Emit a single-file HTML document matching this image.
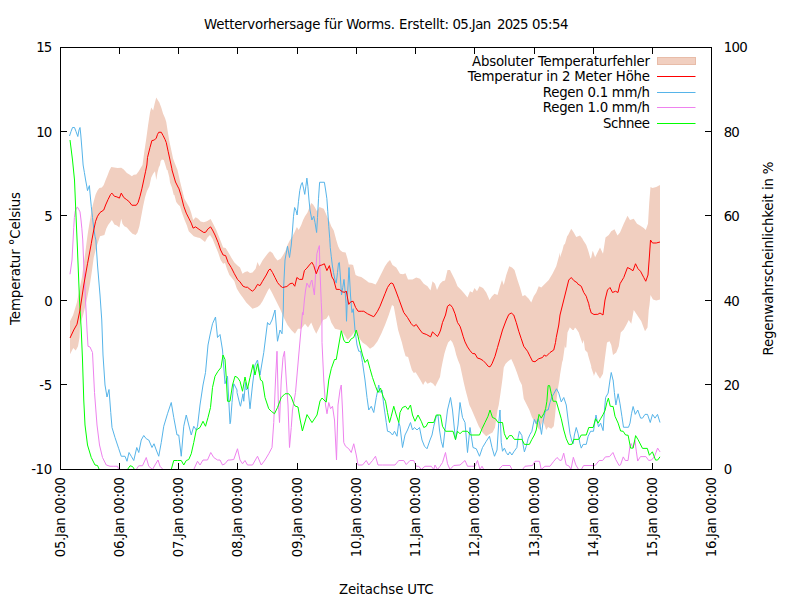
<!DOCTYPE html>
<html lang="de"><head><meta charset="utf-8"><title>Wettervorhersage für Worms</title>
<style>html,body{margin:0;padding:0;background:#fff}body{width:800px;height:600px;overflow:hidden}</style></head>
<body>
<svg width="800" height="600" viewBox="0 0 800 600" style="display:block;font-family:'DejaVu Sans','Liberation Sans',sans-serif;font-size:13.33px" fill="#000">
<rect width="800" height="600" fill="#fff"/>
<polygon points="70,321.25 73.12,315 76.88,302.5 79.38,290 81.88,277.5 83.75,263.75 85.62,250 86.88,240 88.12,231.25 90,220 91.88,208.75 93.75,201.25 95.62,194.38 97.5,190.62 99.38,188.12 101.88,187.5 103.75,185 105.62,180 107.5,175.62 109.38,170.62 111.25,166.88 114.38,167.5 117.5,168.12 121.25,167.75 123.75,169.38 126.88,173.12 129.38,174.38 131.88,176.25 133.75,174.75 136.25,174.38 138.75,171.25 140.62,168.12 142.5,165 144.38,151.25 146.25,138.75 148.12,125 150,112.5 151.25,107.5 153.12,110.62 154.62,103.75 156.25,97.5 157.75,100 159.38,102.5 161.25,107.5 163.12,113.75 165,118.12 166.25,121.88 167.5,130 169.38,141.25 171.25,150 173.12,158.75 175,163.75 177.5,170 180,181.25 181.88,188.75 184.38,198.75 186.88,203.12 189.38,207.5 191.25,213.12 193.12,220 195.62,217.25 198.12,218.75 200.62,221.5 203.75,222.25 206.88,221.25 210.62,219 213.12,223.75 216.25,230 218.75,236.25 221.25,242.5 223.12,247.5 225.62,248.12 228.12,251.88 231.25,257.5 234.38,262.5 237.5,265.62 240,267.5 242.5,273.75 245,271.88 247.5,271.25 250,273.12 252.5,272.5 255.62,268.75 257.5,261.88 259.38,266.25 262.5,260.62 265.62,256.25 268.12,253.12 270,251.25 272.5,253.12 275,257.5 277.5,260.62 280.62,258.75 283.12,255 285.62,250.62 287.5,245 290,240 292.5,236.25 295,231.25 296.88,226.88 298.75,230 301.25,225 303.12,220 305,216.25 307.5,212.5 309.38,207.5 311.25,203.12 313.12,204.38 315,207.5 316.88,211.25 319.38,206.88 321.88,208.12 323.75,208.75 325.62,213.12 327.5,217.5 329.38,221.25 331.25,226.25 333.75,230.62 335.62,237.5 336.25,240 338.12,246.25 340,250 342.5,251.88 345.62,252.5 347.5,258.75 348.75,264.38 351.25,264.38 353.12,265 354.38,270 355.62,275 358.12,276.25 361.25,276.88 363.75,278.75 366.25,280.62 368.75,282.5 371.88,283.12 375.62,284.38 377.5,281.25 380,276.25 382.5,271.25 385,266.25 387.5,262.5 390,260 392.5,265 396.25,267.5 400,273.75 403,274.25 405.5,273.25 408,279.5 412.5,279.5 416.25,277.5 420,278.75 423.75,283.75 427.5,286.25 430.5,290.5 432.5,281.25 435,283.75 437,290 440,283.75 442.5,281.25 445,280.5 447.5,270 450,270 452.5,275 455,280 457.5,286.25 461.25,290 464.5,293.75 467.5,297.5 470,291.25 472.5,292.5 474.5,288 477,291.25 479.5,286.25 483,288 486.25,292.5 489.5,300 492,296.25 494.5,293.75 497.5,295 500,286.25 502,280 503.75,285 506.25,275 509.25,266.25 512,267.5 514.5,270 517.5,280 520,287.5 522.5,296.25 525,295 528.75,298.75 531.25,302.5 533.75,296.25 536.25,292.5 538.75,286.25 541.25,287.5 545,283.75 548.75,280 552.5,273.75 556.25,266.25 560,252.5 560,257.5 562.5,250 563.75,245 565,243.75 567.5,235 567.5,236.25 571.25,228.75 571.25,228.75 573.75,232.5 573.75,232.5 576.25,237 576.25,237 579.5,235.75 580,235.5 582.5,238.75 583,240 585.5,243.75 586.25,245 588,250 588.75,252.5 590.5,258.75 591.25,257.5 592.5,251.25 593,251.25 595,257 595,257.5 597.5,252.5 597.5,252.5 600,247.5 603,253.75 605.5,237.5 608.75,235 611.25,231.25 614.5,229.25 617.5,235.5 620,232.5 623.75,223.75 627.5,215.75 630,220 633.75,218.75 637,223.75 640,225.5 643.75,228 645.75,230 648,223.75 649.25,202.5 650.5,187 652.5,188 656.25,187 660,185 660,299.5 656.25,300.5 653,299.5 650.5,295 649.5,305 648.75,310 647.5,327.5 645,331.25 641.25,321.25 638.75,317.5 636.25,313.75 633.75,310 631.25,323.75 628.75,320 626.25,325 623.75,329.5 620.75,332.5 618.75,346.25 616.25,352.5 613,355 611.25,345 609.5,341.25 607,342.5 605,357.5 603,373.75 600,378.75 597.5,375 596.25,372.5 595.75,371.25 593.75,376.25 593.75,375 591.25,367.5 591.25,366.25 588,355 587.5,352.5 585,350 583.75,340 582.5,343.75 581.25,340 579.5,335 578.75,332.5 576.25,328.75 575,327.5 573.75,330 572.5,330 570,327.5 570,327 567.5,332.5 566.25,347.5 565,347.5 565,345 562.5,362.5 562.5,360 560,375 560,375 559.38,380 557.5,391.25 556.25,402.5 555,416.25 553.75,426.25 551.25,428.75 548.12,426.88 546.25,430 544.38,424.38 542.5,421.25 539.38,430 536.88,426.25 534.38,421.25 531.88,416.88 529.38,410 526.25,403.75 523.75,398.75 521.88,385 519.38,380 518.75,378.12 516.88,372.5 515,367.5 513.12,363.12 511.25,359.12 508.12,361.25 505.62,363.75 503.75,367.5 502.5,378.75 500.62,392.5 498.75,405 497.5,410 495,427.5 492.5,432.5 488.75,434.5 486.25,436.25 482.5,432.5 478.75,426.25 475,417.5 471.25,408.75 469.38,405 467.5,397.5 465.62,390.62 463.75,382.5 461.88,373.75 460,365 458.12,360.62 456.25,355 454.38,347.5 452.5,342.5 450.62,340 448.12,342.5 446.25,347.5 444.38,353.75 442.5,362.5 441.25,368.75 440,376.88 437.5,381.88 435.25,386.5 433.12,383.75 430.62,382.25 427.5,383.75 425.25,381 423.12,385 420.62,380.62 418.12,376.25 415.62,372.25 413.75,373.12 411.88,370 410,363.75 408.12,356.88 405.62,356.25 403.75,350 401.88,342.5 400,336.25 398.12,330 396.25,320 393.75,306.25 392,305 388.75,315 385,325 381.25,333.75 377.5,341.25 373.75,346.25 370,348.75 366.25,345 362.5,342.5 358.75,337.5 355,331.25 351.25,336.25 347.5,340 343.75,333.75 340,330 335,328.75 331.25,322.5 328.75,315 326.25,318.75 323,320 320,326.25 316.25,333.75 313.75,328.75 311.25,322.5 308,327.5 305,323.75 301.25,328.75 298,328.75 295,333.75 291.25,330 287.5,325 283.75,317.5 280,308.75 278.12,305 275,298.75 271.88,292.5 269.38,288.12 267.5,291.25 265,296.25 262.5,301.25 260,305 257.5,307 252.5,308.75 248.75,305 246.25,302.5 243.12,298.12 240,293.75 236.88,288.75 234.38,281.25 231.88,278.12 229.38,275 226.88,268.75 225,263.12 223.12,263.75 220.62,260 218.12,252.5 215,245 212.5,238.75 210,235 207.5,237.5 205,241.88 202.5,240 200,238.12 197.5,237.5 193.75,236.25 191.25,233.75 188.75,231.25 186.88,225.62 184.38,219.38 181.88,212.5 180,206.25 178.12,204.38 176.25,201.88 174.38,195 173.75,195 171.88,187.5 170,182.5 169.38,177.5 167.5,170 166.88,170 165,163.75 163.75,160 161.88,159.38 160.62,161.25 160,165 158.75,167.5 157.5,172.5 156.25,180 155,171.25 153.12,173.75 151.25,177.5 149.38,186.25 146.88,191.25 145,197.5 143.12,206.25 141.25,216.25 139.38,226.25 137.5,232.5 135.62,235 132.5,233.75 130,231.25 126.88,227.5 124.38,226.25 122.5,223.75 121.25,218.75 119.38,227.5 116.88,225.62 114.38,224.38 111.88,220 110,222.5 108.12,225 106.25,228.75 104.38,235 100,236.25 98.75,240 96.25,247.5 93.75,257.5 91.88,271.25 90,283.75 87.5,296.25 85,307.5 83.12,315 80,325 79.5,337.5 78,346.25 75.75,350.5 73.25,348 70,354.25" fill="#f1cfc0" stroke="none"/>
<polyline points="69.5,136 71,131.5 72.5,127.5 74.5,127.5 76,131.5 77.8,136.5 79,130 80,127.5 80.8,135 82,150 83.12,165 84.38,172.5 85.62,180 86.88,186.88 87.5,190.62 89.38,185.62 90,193.12 91.25,206.25 92.5,217.5 93.75,228.75 95,236.25 95.88,240 97.5,265 100,295 101.75,320 103,355 105,385 107,397 109,389.5 110.75,412.5 112,427.5 115,437.5 118.75,448.75 121.25,456.25 125,456.25 127,461.25 129,452.5 131.25,456.25 133.75,460.5 136.75,447.5 138.75,452.5 141.25,440 143.75,435.5 146.25,438.75 148.75,440 152,447.5 154,443.75 156.25,450 158.75,456.25 161.25,442.5 163.75,426.25 167.5,413.75 171.25,402.5 173.75,417.5 177,435 178.75,435 181.25,456.25 183.75,426.25 186.25,415 188.75,425 191.25,435 193.75,426.25 196.25,430 197.5,426.25 200,405 203,385 205.5,372.5 208,345 210,335 212.5,323.75 215.5,317 217.5,337.5 220,334.5 222.5,350 225,383.75 227.5,376.25 230,423.75 230.5,422.5 232,402.5 233.75,383.75 234.5,385 237,390 237,392.5 240,405 240.5,406.25 243,393.75 243.75,401.25 245.5,382.5 246.25,390 248,387.5 250,408.75 252.5,385 255,365 257.5,360 260,375 263.75,352.5 267.5,322.5 269.5,325 272,320 275,310 277.5,341.25 280,330 282,333.75 283.25,310 283.75,285 285,260 287.5,246.25 289.5,257.5 291.25,245 292.5,230 293.5,216.25 294.62,207.5 296,210.62 297.12,215 298.5,201.25 299.75,190.62 301,185 302.25,182.5 303.5,188.12 304.75,194.38 305.88,186.25 306.88,178.12 307.88,186.25 309,200 310,210 311.88,220 313.75,216.25 315,222.5 316.62,232.5 317.5,217.5 318.5,198.75 319.62,182.25 324.38,182.25 325.62,190 326.88,198.75 327.75,211.25 328.75,226.25 329.75,238.75 330.25,247.5 331.25,256.25 332.25,265 333.5,272.5 335,280 336.25,283.12 337.5,272.5 338.5,263.12 339.38,262.5 340.25,275 341.5,295 342.75,287.5 344,279.38 345,290 346,303.75 346.5,321.25 347.5,295 349,267.5 350.5,295 351.25,305 352,312.5 353.25,308.75 355,330 357,345 358.75,351.25 360.5,351.25 362.5,362.5 365,380 367,397.5 368.75,410 371.25,406.25 373.75,412.5 376.25,397.5 378.75,385 380,392.5 382,390 383.75,405 386.25,422.5 387.5,431.25 390,432 392.5,435 394.5,431.25 397,436.25 398.75,422.5 400,426.25 402.5,447.5 405,435 407.5,430 410.5,422.5 412.5,430 414.5,427.5 417,430 419.5,427.5 422,440 424.5,446.25 427,448.75 430,440 432,435 433.75,426.25 436.25,416.25 438,415 439.5,430 441.25,441.25 443,447.5 445,430 447.5,410 450.5,397.5 452.5,410 455.5,440 458,425 460,402.5 462.5,417.5 465,422.5 467.5,452.5 470,427.5 473,447.5 476.25,448.75 479.5,456.25 482.5,447.5 486.25,441.25 489.5,436.25 492,447.5 494.5,456.25 497,450 498.75,422.5 500,410 501.25,442.5 502.5,451.25 504.38,448.12 506.25,452.5 508.12,455 509.75,451.88 511.88,455 513.75,451.88 516.88,447.5 518.12,437.5 519.38,431.25 521.88,435.62 523.12,445 524.38,451.88 526.25,446.25 528.12,438.75 530,434.38 531.88,431.25 533.12,425 534.38,419.38 536.25,423.75 538.12,418.75 539.75,423.75 541.5,434.38 543.12,421.25 545,412.5 546.25,410 548.12,410 550,402.5 551.88,396.88 553.75,393.75 556.5,388.75 558.75,393.12 561.25,401.88 563.75,397.5 566.25,405 568.12,420 570,433.75 571.88,441.25 573.12,443.75 574.38,435 576.25,427.5 578.12,433.75 580,443.75 581.25,448.12 583.12,444.38 586.25,444.38 588.12,436.25 590.62,431.25 593.5,431.25 594.75,422.5 596,415 597.25,421.25 598.5,426.88 600.62,423.12 603.12,430.62 604.38,411.25 605.62,397.5 608.12,393.12 610,380 611.25,372.5 613,380 613.12,380 614.38,392.5 615.88,405 618.12,393.75 620,403.75 621.88,416.25 623.5,427.25 628.5,427.25 630,423.12 631.5,413.75 633.12,406.5 635.25,414.38 637.75,410 640.62,418.12 642.5,418.12 645,414.38 647.5,414.38 650.25,422.5 652.5,414.38 655,418.12 657.5,414.38 660,422.5" fill="none" stroke="#56b4e9" stroke-width="1" stroke-linejoin="round"/>
<polyline points="70,274.25 72,260 73.75,227.5 74.38,217.5 75.25,211.25 76.25,208.12 77.5,207.25 78.75,209.38 80,211.88 81,220 81.88,228.75 82.75,240 83.75,265 85.5,300 87,330 88,346.25 90,347 92.5,352.5 94.5,392.5 97,425 99.5,445 102.5,457.5 106.25,465 110,466.25 113.75,466.25 117.5,466.25 118.75,469.5 136.25,469.5 138.75,465.75 142.5,465.75 146.25,457.5 148.75,466.25 152.5,469.5 155,465 158,460 160,466.25 163,469.5 193.75,469.5 197.5,461.25 200,465 203,460 207.5,460 210.75,452.5 213.75,457.5 217.5,460 220,460 222.5,465 225,463.75 228,460 230,460 233.75,459.5 237.5,448.75 240,460 242.5,463.75 245,460.5 247.5,465 252.5,465 257.5,456.25 261.25,465 265,460 268.75,453.75 272,447.5 273.75,422.5 275.5,380 277,351.25 278.25,400 279.5,422.5 281.25,380 283,357.5 284.5,351.25 286.25,380 288,405 289.5,447.5 291.25,427.5 292.5,410 295.5,392.5 298.75,355 302.5,312.5 303.12,315 304.38,300 305.62,290 306.88,283.12 309.38,287.5 310.62,282.5 311.88,280 313.12,287.5 314.38,295 315.62,273.75 316.88,253.75 318.12,249.38 319.38,245.62 320,271.25 321.25,302.5 321.88,315 322,342.5 323.75,380 325.5,405 327,413.75 328.75,402.5 330.5,408.75 332.5,406.25 334.5,420 336.5,460 338,405 340,390 341.25,385 342.5,410 343.75,442.5 345.5,446.25 348.75,448.75 351.25,452.5 353.75,443.75 356.25,455 358,465 362.5,465 366.25,460.5 368.75,465 372.5,460.5 375.5,456.25 378,465 382.5,465 390,465 395,465 398.75,460.5 403.75,460.5 406.25,464.5 410,460.5 413.75,460.5 416.25,466.25 418.75,466.25 421.25,469.5 425,466.25 431.25,466.25 433.75,469.5 435,465 437.5,469.5 440,466.25 442.5,462.5 445.5,452.5 447.5,463.75 450,469.5 453.75,465.5 460,465 465,460.5 467.5,466.25 471.25,466.25 475,466.25 477.5,460.5 480,469.5 482,466.25 483.75,469.5 498.75,469.5 502.5,465.5 510,465.5 512,469.5 522.5,469.5 525,466.25 532.5,465.5 535,461.25 539.5,461.25 541.25,469.5 545,466.25 550,466.25 553.75,461.25 557,457.5 560,460.48 561.65,460.06 563.71,453.19 566.19,464.88 568.94,465.98 571,469.5 573.34,457.31 575.81,464.88 578.56,469.5 581.31,469.5 583.65,465.56 595.06,465.56 599.19,460.48 602.62,460.48 605.38,456.9 609.5,456.62 612.94,452.5 615.69,459.38 619.12,465.56 620.5,464.88 623.25,456.9 625.31,460.48 628.06,460.48 629.85,447 631.23,443.56 632.88,447.69 634.94,440.4 636.31,451.12 637.69,461.02 640.44,456.62 645.94,456.62 648.69,460.48 651.44,460.06 654.19,456.9 655.98,452.5 657.62,448.1 659.96,451.81 660,452" fill="none" stroke="#ee82ee" stroke-width="1" stroke-linejoin="round"/>
<polyline points="70,140 72.5,160 74.5,180 75.75,210 77.5,250 79.5,300 81.25,330 82.5,360 83.75,400 85,425 87.5,445 91.25,457.5 95,465 97.5,465.5 99.25,469.5 127.5,469.5 130,465.75 132.5,466.5 134.5,469.5 171.25,469.5 173.75,460.5 177.5,460.5 181.25,460.5 183.75,465 186.25,460.5 188.75,459.5 191.25,453.75 193.75,442.5 196.25,430 200,427.5 203,421.25 205.5,426.25 208,417.5 210.5,407.5 212.5,387.5 215,376.25 218,371.25 221,367.5 223,355 225,359.5 226.25,377.5 227.5,401.25 230,401.25 232.5,385 235,376.25 237.5,377.5 240,381.25 242.5,391.25 245,377 247.5,388.75 250,377.5 253,364.5 255,375 257.5,363.75 260.5,380 262.5,381.25 265,397.5 268.75,408.75 271.25,411.25 274.5,413.75 277.5,407.5 281.25,397.5 285,393.75 288.75,393.75 291.25,397 293.75,403.75 295,406 298,407 300,419 302.4,431 307,414.6 312,422.6 317,415 320,401 322,398 325,401 326.25,402 328.75,380 331.25,368.75 334.5,359.5 336.25,359.5 338.75,345 341.25,330.75 343.75,340 345.5,342.5 348.75,342.5 351.25,338.75 353.75,337.5 356.25,330 358,336.25 360,345 362.5,355 365,362.5 367.5,359.5 370,368.75 372.5,377.5 375.5,386.25 378,392.5 380.5,388 383,396.25 385.5,401.25 387.5,412.5 389.5,422.5 391.25,416.25 393.75,406.25 396.25,415 398.75,422.5 400,412.5 402.5,407.5 405.5,406.25 408,409.5 410.5,405 412.5,415 415,421.25 418,415 421.25,421.25 423.75,427.5 426.25,426.25 428,422.5 433.75,422.5 436.25,415 440.5,415 442.5,426.25 445.5,431.25 450,431.25 453,431.25 455.5,439.5 457.5,431.25 460,433.75 462.5,431.25 467.5,431.25 470.5,435 475,435 479.5,435 482,428.75 485,422.5 488,416.25 490,410 492.5,417.5 495.5,418.75 498,422.5 502.5,422.5 504.38,433.75 506.88,439.38 509.38,435.62 511.88,435.62 514.38,439.38 521.88,439.38 524.38,444.38 529.38,444.38 531.88,439.38 534.38,435 536.25,430 537.5,422.5 539,414.38 541.25,418.12 543.75,413.75 545.62,408.75 546.88,401.25 548.12,385.62 549.62,385.62 551.25,393.75 553.12,401.25 556.25,401.25 558.75,410 561.25,418.75 563.75,430 566.25,438.75 568.75,444.38 571.88,444.38 573.75,439.38 578.75,439.38 581.25,435 586.25,435 588.75,427.5 593.12,427.5 595.62,418.75 598.12,423.12 600.62,418.75 603.12,414.38 605,410.62 606.88,402.5 608.38,398.12 610.25,406.25 613.12,406.5 615,416.25 618.12,423.12 620.62,431 623.12,431.25 625.62,435 628.12,435.25 630.62,448.12 633.12,448.12 635.62,435.62 638.12,439.75 642.5,448.38 647.31,448.38 649.38,455.25 652.4,451.81 655.56,460.06 657.62,460.06 659.96,456.9 660,457" fill="none" stroke="#00ff00" stroke-width="1" stroke-linejoin="round"/>
<polyline points="70,338 73.75,330 77,324.25 80,310 83.75,285 87.5,263.75 91.25,243.75 91.88,240 93.75,230 95.62,221.25 97.5,216.25 100,212.5 103.75,210 105.62,205 108.12,199.38 110.62,194.38 111.88,193.12 114.38,196.25 116.88,196.88 119.38,198.12 121.25,193.12 123.75,197.5 126.25,199.38 128.75,201.25 131.88,205.25 136.25,205.25 138.12,202.5 140,196.25 141.88,188.75 143.75,180 145.62,171.25 146.88,165 147.5,157.5 150,147.5 151.88,140.62 154.38,140 156.25,138.12 157.5,134.38 158.75,132.25 161.25,132.25 163.12,135.62 165,139.38 166.25,142.5 168.12,151.25 170,160 171.88,168.75 172,170 175.5,182 178.5,188 178.75,188.12 181.25,196.25 183.75,206.25 186.25,213.12 188.75,218.12 191.25,223.12 193.12,228.12 195.62,226.88 200,230 203.75,232.5 205.62,232.25 208.12,228.75 210.62,226.88 212.5,230 215,235 218.12,242.5 220.62,250 223.12,255 225.62,255.62 228.12,262.5 231.25,267.5 234.38,273.75 237.5,279.38 240,281.88 243.12,286.25 245.62,287.25 247.5,287.25 250,289.38 252.5,291.25 255,288.75 257.5,284.38 260,285.62 262.5,281.25 266.25,275 268.75,270 270.25,269 272.5,272.5 275,277.5 277.5,282.5 280,285.62 282.5,287.5 286.88,286.5 290,283.75 292.5,283.12 294.75,286.25 296.88,277.5 299.38,279.38 302.5,279.38 304.38,270.62 306.88,268.12 309.38,265 311.88,262.25 313.75,265.62 316.25,273.75 319.38,265.62 321.88,265 324.38,263.75 326.88,270.62 329.38,265.62 331.88,276.88 333.75,280 336.25,289.38 339.38,289.38 342.5,291.88 345,292.25 346.25,291 348.75,304.38 350.62,301.88 353.12,301.25 355.62,307.5 358.12,311.25 361.25,311.25 363.75,311.25 367.5,313.75 370,315 373.75,316.75 375,315 377.5,311.25 380,306.25 382.5,300 385,293.75 387.5,287.5 390,283.75 391.25,283 393,283.75 395.5,290 398.75,298.75 403.75,312.5 407.5,317.5 411.25,323.75 413.75,326.25 416.25,324.5 420,330 422.5,333.12 426.25,334.38 430.62,336.88 432.5,331.88 437.5,336.5 439.38,333.12 440.62,330 442.5,322.5 445.5,315 447.5,306.25 450,304.5 452.5,307.5 455,313.75 457.5,322.5 460,326.25 461.25,330 463.12,336.25 465,341.88 467.5,346.88 470,350.62 472.5,353.5 475,353.75 477.5,358.12 480,358.75 483.12,360.62 485.62,363.12 488.12,366.25 490,366.88 492,363.75 495,356.25 497.5,347.5 500,338.75 502.5,330 506.25,320 508.75,314.5 511.25,313 513.75,315 516.25,322.5 518.75,331.25 521.25,338.75 523.75,346.25 527.5,351.25 530,356.25 532.5,361.25 535,361.75 538.75,358.75 542.5,357.5 544.25,355 546.25,356.25 550,352.5 553.75,350 555.5,342.5 556.25,337.5 558.75,325 560,315 561.25,310 562.5,305 563.75,300 566.25,290 566.25,290 568.75,280 568.75,280 571.25,277.5 571.25,277.5 573.75,280.5 573.75,280.5 577.5,283 577.5,283.75 581.25,286.25 581.25,286.25 583.75,292.5 583.75,292.5 586.25,296.25 587,298.75 588.75,303.75 589.5,307.5 591.25,313 591.25,313 593.75,314.25 593.75,314.5 597.5,314.25 597.5,314.5 600,313 603,315 605,300 607.5,290 610,287.5 612.5,292.5 615.5,291.25 618,292.5 620,283.75 623.75,277.5 627.5,267.5 630,268.75 633,270.75 635.5,263.75 638,268.75 640.5,271.25 643.75,277.5 645.75,281.25 648,275 649.5,255 650.5,240 652.5,243 656.25,243 660,242" fill="none" stroke="#ff0000" stroke-width="1" stroke-linejoin="round"/>
<path d="M119.5,469.5v-6.5M119.5,47.5v6.5M178.5,469.5v-6.5M178.5,47.5v6.5M237.5,469.5v-6.5M237.5,47.5v6.5M297.5,469.5v-6.5M297.5,47.5v6.5M356.5,469.5v-6.5M356.5,47.5v6.5M415.5,469.5v-6.5M415.5,47.5v6.5M474.5,469.5v-6.5M474.5,47.5v6.5M534.5,469.5v-6.5M534.5,47.5v6.5M593.5,469.5v-6.5M593.5,47.5v6.5M652.5,469.5v-6.5M652.5,47.5v6.5M60.5,131.5h6.5M711.5,131.5h-6.5M60.5,215.5h6.5M711.5,215.5h-6.5M60.5,300.5h6.5M711.5,300.5h-6.5M60.5,384.5h6.5M711.5,384.5h-6.5" stroke="#000" stroke-width="1" fill="none"/>
<rect x="60.5" y="47.5" width="651.0" height="422.0" fill="none" stroke="#000" stroke-width="1"/>
<text x="36.2" y="52.2" textLength="16">15</text>
<text x="723.8" y="52.2" textLength="24">100</text>
<text x="36.2" y="136.5" textLength="16">10</text>
<text x="723.8" y="136.5" textLength="16">80</text>
<text x="44.2" y="221.2" textLength="8">5</text>
<text x="723.8" y="221.2" textLength="16">60</text>
<text x="44.2" y="305.8" textLength="8">0</text>
<text x="723.8" y="305.8" textLength="16">40</text>
<text x="39.2" y="390" textLength="13">-5</text>
<text x="723.8" y="390" textLength="16">20</text>
<text x="31.2" y="474.2" textLength="21">-10</text>
<text x="723.8" y="474.2" textLength="8">0</text>
<text transform="translate(64.8,557.2) rotate(-90)" textLength="80.3">05.Jan 00:00</text>
<text transform="translate(123.8,557.2) rotate(-90)" textLength="80.3">06.Jan 00:00</text>
<text transform="translate(182.8,557.2) rotate(-90)" textLength="80.3">07.Jan 00:00</text>
<text transform="translate(241.8,557.2) rotate(-90)" textLength="80.3">08.Jan 00:00</text>
<text transform="translate(301.8,557.2) rotate(-90)" textLength="80.3">09.Jan 00:00</text>
<text transform="translate(360.8,557.2) rotate(-90)" textLength="80.3">10.Jan 00:00</text>
<text transform="translate(419.8,557.2) rotate(-90)" textLength="80.3">11.Jan 00:00</text>
<text transform="translate(478.8,557.2) rotate(-90)" textLength="80.3">12.Jan 00:00</text>
<text transform="translate(538.8,557.2) rotate(-90)" textLength="80.3">13.Jan 00:00</text>
<text transform="translate(597.8,557.2) rotate(-90)" textLength="80.3">14.Jan 00:00</text>
<text transform="translate(656.8,557.2) rotate(-90)" textLength="80.3">15.Jan 00:00</text>
<text transform="translate(715.8,557.2) rotate(-90)" textLength="80.3">16.Jan 00:00</text>
<text y="28.8"><tspan x="204" textLength="191">Wettervorhersage für Worms.</tspan> <tspan x="399" textLength="50">Erstellt:</tspan> <tspan x="452.5" textLength="38.7">05.Jan</tspan> <tspan x="497" textLength="31.5">2025</tspan> <tspan x="532" textLength="36.5">05:54</tspan></text>
<text x="339" y="593.8" textLength="94.5">Zeitachse UTC</text>
<text transform="translate(19.5,325) rotate(-90)" textLength="133">Temperatur °Celsius</text>
<text transform="translate(773,355.5) rotate(-90)" textLength="194">Regenwahrscheinlichkeit in %</text>
<text x="472" y="65.6" textLength="178">Absoluter Temperaturfehler</text>
<rect x="657.5" y="57.5" width="38" height="7" fill="#f1cfc0" stroke="#e8bca8" stroke-width="1"/>
<text x="467.8" y="81.3" textLength="182.2">Temperatur in 2 Meter Höhe</text>
<line x1="657" x2="695.5" y1="76.5" y2="76.5" stroke="#ff0000" stroke-width="1"/>
<text x="542.8" y="96.8" textLength="107.2">Regen 0.1 mm/h</text>
<line x1="657" x2="695.5" y1="92.5" y2="92.5" stroke="#56b4e9" stroke-width="1"/>
<text x="542.8" y="112.4" textLength="107.2">Regen 1.0 mm/h</text>
<line x1="657" x2="695.5" y1="107.5" y2="107.5" stroke="#ee82ee" stroke-width="1"/>
<text x="603" y="127.6" textLength="47">Schnee</text>
<line x1="657" x2="695.5" y1="123.5" y2="123.5" stroke="#00ff00" stroke-width="1"/>
</svg>
</body></html>
